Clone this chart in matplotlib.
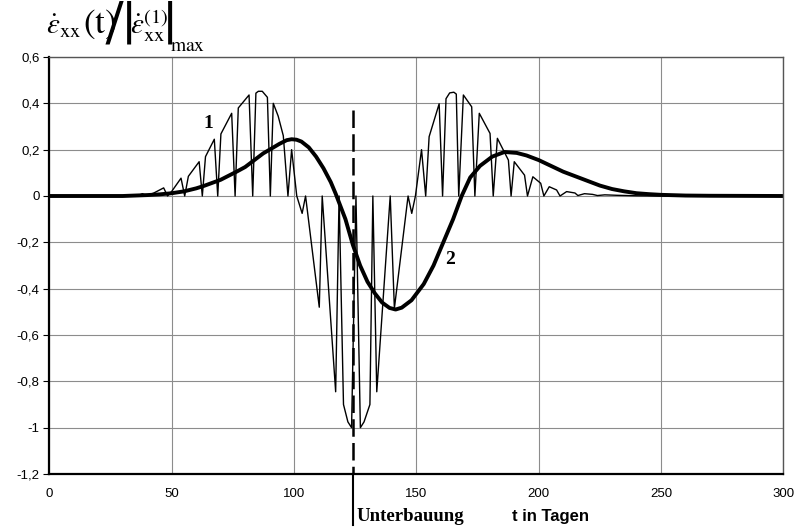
import matplotlib
matplotlib.use("Agg")
from matplotlib import pyplot as plt

# curve 1: oscillating strain rate (vertices of the polyline), t in days
t1 = [0, 36, 38, 39.5, 42.5, 46.7, 48.3, 50, 53.8, 55.3, 56.8, 61.2, 62.5,
      63.8, 67.4, 68.8, 70.1, 74.5, 75.9, 77.2, 81.6, 83.1, 84.4, 85.4, 87,
      89.1, 90.3, 91.5, 93.5, 95.6, 97.5, 99, 101.1, 103.3, 104.7, 110.3,
      111.5, 117, 118.4, 120.2, 122, 123.5, 125.3, 127.1, 128.6, 131, 132.2,
      133.8, 139.3, 141, 146.6, 148.1, 149.6, 152.1, 153.8, 155.2, 159.3,
      160.7, 162.1, 163.6, 165.3, 166.3, 167.3, 169.2, 172.6, 173.9, 175.7,
      180.1, 181.4, 183.1, 187.6, 188.7, 190, 194.2, 195.4, 197.6, 200.8,
      202.1, 204.3, 207.3, 208.7, 211.4, 214.8, 216, 218.7, 222, 224, 227,
      232, 240, 250, 300]
v1 = [0, 0, 0.01, 0.003, 0.012, 0.035, 0, 0.02, 0.077, 0, 0.085, 0.148, 0,
      0.17, 0.245, 0, 0.268, 0.357, 0, 0.38, 0.436, 0, 0.444, 0.452, 0.452,
      0.426, 0, 0.40, 0.345, 0.26, 0, 0.2, 0, -0.075, 0, -0.48,
      0, -0.845, 0, -0.9, -0.975, -1.0, 0, -1.0, -0.975, -0.9, 0,
      -0.845, 0, -0.485, 0, -0.075, 0, 0.2, 0, 0.256, 0.398,
      0, 0.42, 0.445, 0.448, 0.44, 0, 0.436, 0.385, 0, 0.357,
      0.27, 0, 0.249, 0.155, 0, 0.148, 0.09, 0, 0.083, 0.055,
      0, 0.04, 0.026, 0, 0.019, 0.013, 0.002, 0.01, 0.007, 0.002, 0.005,
      0.003, 0.001, 0, 0]

# curve 2: smoothed strain rate
t2 = [0, 30, 35, 40, 45, 50, 55, 60, 63, 70, 76.5, 80, 87.4, 90, 94, 97, 99,
      101, 103, 106, 109, 112, 115, 117, 121, 124, 127, 130, 133, 136, 139,
      141.5, 144, 148, 153, 157, 161, 165, 168.5, 172, 176, 181, 186, 191,
      195, 200, 205, 210, 215, 220, 225, 230, 235, 240, 245, 250, 260, 270,
      300]
v2 = [0, 0, 0.002, 0.004, 0.007, 0.012, 0.02, 0.033, 0.043, 0.07, 0.105,
      0.125, 0.184, 0.2, 0.225, 0.241, 0.245, 0.243, 0.235, 0.21, 0.17,
      0.12, 0.06, 0.01, -0.1, -0.21, -0.3, -0.37, -0.42, -0.46, -0.483,
      -0.49, -0.482, -0.45, -0.38, -0.3, -0.2, -0.1, 0, 0.08, 0.13, 0.17,
      0.19, 0.186, 0.175, 0.155, 0.13, 0.105, 0.085, 0.065, 0.045, 0.03,
      0.02, 0.012, 0.008, 0.005, 0.002, 0.001, 0]

t_unterbauung = 124
xticks = [0, 50, 100, 150, 200, 250, 300]
yticks = [0.6, 0.4, 0.2, 0, -0.2, -0.4, -0.6, -0.8, -1, -1.2]
ylabels = ["0,6", "0,4", "0,2", "0", "-0,2", "-0,4", "-0,6", "-0,8", "-1", "-1,2"]

plt.rcParams["font.family"] = ["Liberation Sans", "DejaVu Sans"]
plt.rcParams["mathtext.fontset"] = "stix"

W, H = 802, 528
fig = plt.figure(figsize=(W / 100, H / 100), dpi=100)
ax = fig.add_axes([49.4 / W, 1 - 474 / H, 734 / W, 417 / H])

ax.set_xlim(0, 300)
ax.set_ylim(-1.2, 0.6)
ax.set_xticks(xticks)
ax.set_yticks(yticks)
ax.set_yticklabels(ylabels)
ax.grid(True, color="#8c8c8c", lw=0.8)
ax.set_axisbelow(True)
ax.tick_params(axis="x", length=0, pad=10, labelsize=9.5)
ax.tick_params(axis="y", length=4, width=0.8, pad=3, labelsize=9.5)
for side in ["left", "bottom"]:
  ax.spines[side].set_linewidth(1.6)
  ax.spines[side].set_color("black")
for side in ["top", "right"]:
  ax.spines[side].set_linewidth(1.0)
  ax.spines[side].set_color("#555555")

ax.plot(t1, v1, color="black", lw=1.0)
ax.plot(t2, v2, color="black", lw=2.8, solid_capstyle="round")

# moment of undermining
ax.plot([t_unterbauung, t_unterbauung], [0.37, -1.2], color="black", lw=1.8,
        dashes=(7, 2.5))
ax.plot([t_unterbauung, t_unterbauung], [-1.2, -1.42], color="black", lw=1.5,
        clip_on=False)

ax.text(64.9, 0.314, "1", fontsize=14, fontweight="bold", family="Liberation Serif",
        ha="center", va="center")
ax.text(163.7, -0.276, "2", fontsize=14, fontweight="bold", family="Liberation Serif",
        ha="center", va="center")

ax.text(t_unterbauung + 1.5, -1.405, "Unterbauung", fontsize=13.5, fontweight="bold",
        family="Liberation Serif", ha="left", va="baseline")
fig.text(550 / W, 1 - 521 / H, "t in Tagen", fontsize=12, fontweight="bold",
         ha="center", va="baseline")

# y axis quantity, set piece by piece so the brackets can be large
renderer = fig.canvas.get_renderer()

def title_part(x, y, s, size):
  return fig.text(x / W, 1 - y / H, s, fontsize=size, ha="left", va="baseline")

def tall_part(x, top, height, s):
  # scale the glyph box to the wanted pixel height
  t = fig.text(x / W, 1 - top / H, s, fontsize=10, ha="left", va="top")
  h = t.get_window_extent(renderer).height
  t.set_fontsize(10 * height / h)
  return t

title_part(46, 34, r"$\dot{\varepsilon}_{\mathrm{xx}}$", 21)
tall_part(83, 8, 44, r"$(\mathrm{t})$")
tall_part(105, 0, 62, r"$/$")
tall_part(122, 0, 62, r"$|$")
title_part(130, 34, r"$\dot{\varepsilon}_{\mathrm{xx}}^{(1)}$", 21)
tall_part(163, 0, 62, r"$|$")
title_part(170, 51, r"$\mathrm{max}$", 14)

fig.savefig("out.png", dpi=100)
